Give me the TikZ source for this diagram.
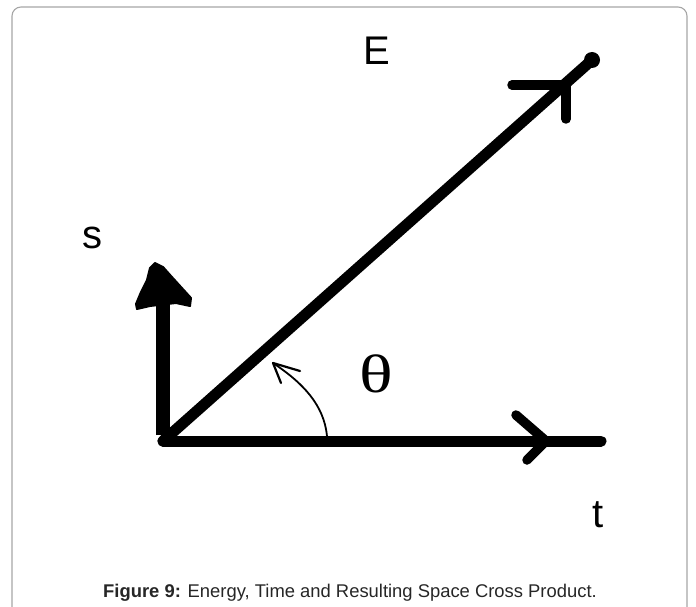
\documentclass[tikz,border=0pt]{standalone}
\usepackage{fontspec}
\setmainfont{Liberation Sans}
\newfontfamily\thetafont{Liberation Serif}
\begin{document}
\begin{tikzpicture}[x=1pt,y=-1pt,
  vec/.style={line width=11pt, line cap=round, line join=round},
  barb/.style={line width=9.5pt, line cap=round, line join=round},
  lbl/.style={inner sep=0pt, font=\fontsize{40}{40}\selectfont},
  frame/.style={draw=black!35, line width=1.1pt, rounded corners=9pt}]
\useasboundingbox (0,0) rectangle (696,607);
\begin{scope}
\clip (0,0) rectangle (696,607);
\draw[frame] (12,7) rectangle (687,630);
\end{scope}
% axis points
\coordinate (O) at (163,441);
\coordinate (T) at (601,441);
\coordinate (S) at (163,302);
\coordinate (E) at (592,60);
% t axis
\draw[vec] (O) -- (T);
\coordinate (ttip) at (546,441);
\coordinate (tb1) at (516,415);
\coordinate (tb2) at (527,460);
\draw[barb] (tb1) -- (ttip) -- (tb2);
% s axis
\draw[vec, line width=14pt, line cap=butt] ([yshift=6pt]O) -- (S);
\fill[draw=black, line width=2pt, line join=round] (136,304) -- (141,292) -- (147,280) -- (150,268) -- (155,263) -- (163,267) -- (171,276) -- (181,287) -- (191,298) -- (190,306) -- (176,303) -- (150,306) -- (137,309) -- cycle;
% E vector
\draw[vec] (O) -- (E);
\fill (E) circle (8pt);
\coordinate (ebv) at (566,85);
\coordinate (eb1) at (512,85);
\coordinate (eb2) at (566,119);
\draw[barb] (eb1) -- (ebv) -- (eb2);
% angle arc
\coordinate (a0) at (327,436);
\coordinate (a1) at (273,363);
\draw[line width=1.8pt, line cap=round] (a0) .. controls (324,405) and (303,383) .. (a1);
\coordinate (ab1) at (300,371);
\coordinate (ab2) at (281,383);
\draw[line width=2.2pt, line cap=round, line join=round] (ab1) -- (a1) -- (ab2);
% labels
\node[lbl, anchor=base] (lE) at (377,65) {E};
\node[lbl, anchor=base] (ls) at (92,248) {s};
\node[lbl, anchor=base] (lt) at (598,527) {t};
\node[inner sep=0pt, xscale=1.3, font=\thetafont\fontsize{54}{54}\selectfont] (lth) at (376,374) {θ};
\node[inner sep=0pt, anchor=base, font=\fontsize{18.4}{20}\selectfont, text=black!85] (cap) at (350,597) {\textbf{Figure 9:} Energy, Time and Resulting Space Cross Product.};
\end{tikzpicture}
\end{document}
